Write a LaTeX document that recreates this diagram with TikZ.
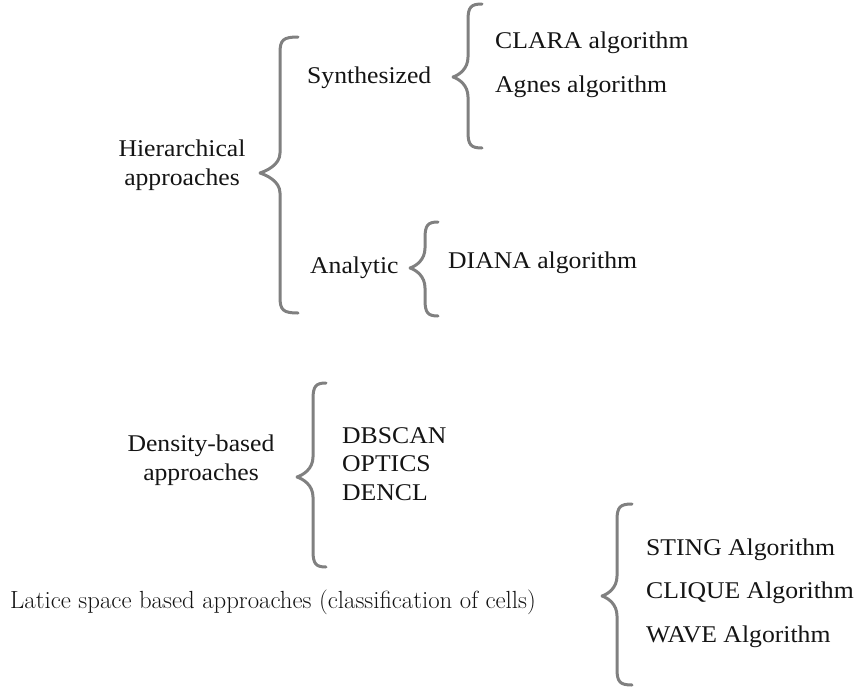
\documentclass[tikz,border=0pt]{standalone}
\usepackage{fontspec}
\setmainfont[FakeStretch=1.07]{Liberation Serif}
\definecolor{bracegray}{RGB}{128,128,128}
\definecolor{textblack}{RGB}{20,20,20}
\tikzset{
  lbl/.style={inner sep=0pt, anchor=base west, text=textblack, font=\fontsize{24}{28.5}\selectfont},
  lblc/.style={lbl, anchor=base, align=center},
  lmlbl/.style={inner sep=0pt, anchor=base west, text=textblack, font=\fontfamily{lmr}\fontsize{24.8}{28}\selectfont},
  brc/.style={draw=bracegray, line width=3pt, line cap=round, line join=round},
}
\newcommand\curlybrace[6]{% spineX top bottom tipX tipY curlX
  \draw[brc] (#6,#2) .. controls ({#1+3},#2) and (#1,{#2+3}) .. (#1,{#2+16})
    -- (#1,{#5-20}) .. controls (#1,{#5-8}) and ({#4+6},{#5-2}) .. (#4,#5)
    .. controls ({#4+6},{#5+2}) and (#1,{#5+8}) .. (#1,{#5+20})
    -- (#1,{#3-16}) .. controls (#1,{#3-3}) and ({#1+3},#3) .. (#6,#3);
}
\begin{document}
\begin{tikzpicture}[x=1pt,y=-1pt]
\useasboundingbox (0,0) rectangle (856,688);
% texts (multi-line nodes: base = baseline of last line)
\node[lblc] (hier) at (182,185) {Hierarchical\\approaches};
\node[lbl] (synth) at (307,83) {Synthesized};
\node[lbl] (clara) at (495,48) {CLARA algorithm};
\node[lbl] (agnes) at (495,92) {Agnes algorithm};
\node[lbl] (analytic) at (310,273) {Analytic};
\node[lbl] (diana) at (448,268) {DIANA algorithm};
\node[lblc] (density) at (201,480) {Density-based\\approaches};
\node[lbl, align=left] (dbscan) at (342,500) {DBSCAN\\OPTICS\\DENCL};
\node[lmlbl] (latice) at (10,608) {Latice space based approaches (classification of cells)};
\node[lbl] (sting) at (646,555) {STING Algorithm};
\node[lbl] (clique) at (646,598) {CLIQUE Algorithm};
\node[lbl] (wave) at (646,642) {WAVE Algorithm};
% braces
\curlybrace{280}{37}{313}{260}{173}{298}
\curlybrace{468}{4}{148}{453}{77}{482}
\curlybrace{425}{222}{316}{410}{268}{438}
\curlybrace{313}{383}{567}{297}{477}{326}
\curlybrace{617}{504}{685}{602}{596}{632}
\end{tikzpicture}
\end{document}
